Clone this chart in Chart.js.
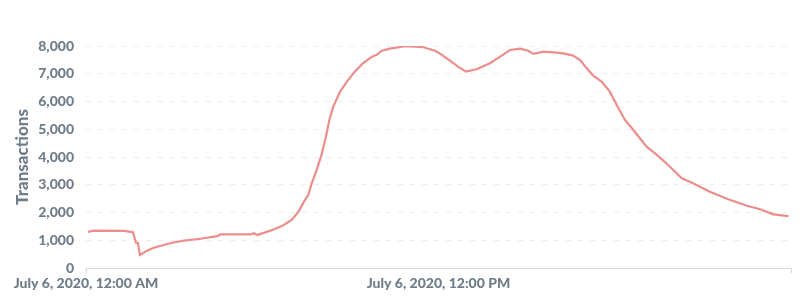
<!DOCTYPE html>
<html>
<head>
<meta charset="utf-8">
<script src="https://cdn.jsdelivr.net/npm/chart.js@4"></script>
<style>
  html, body { margin: 0; padding: 0; background: #fff; }
  #wrap { width: 804px; height: 302px; position: relative; }
</style>
</head>
<body>
<div id="wrap"><canvas id="c"></canvas></div>
<script>
// minutes after midnight, July 6, 2020
const minutes = [4, 16, 78, 88, 96, 102, 106, 110, 125, 139, 159, 176, 200, 234, 268, 275, 336, 343, 350, 366,
  383, 400, 406, 420, 434, 444, 454, 461, 470, 481, 490, 497, 505, 519, 533, 549, 566, 584, 594, 604,
  621, 652, 689, 713, 727, 744, 760, 776, 798, 825, 846, 866, 887, 903, 914, 934, 961, 975, 995, 1009,
  1023, 1036, 1053, 1070, 1084, 1101, 1121, 1145, 1166, 1189, 1217, 1240, 1274, 1312, 1350, 1377, 1404, 1435];
const transactions = [1300, 1345, 1340, 1310, 1290, 910, 910, 470, 625, 735, 830, 910, 985, 1055, 1150, 1210, 1210, 1255, 1190, 1285,
  1390, 1515, 1575, 1730, 2030, 2355, 2630, 3050, 3470, 4075, 4730, 5335, 5815, 6355, 6715, 7075, 7380, 7615, 7680, 7830,
  7905, 7995, 7955, 7830, 7680, 7460, 7255, 7075, 7160, 7380, 7615, 7855, 7905, 7830, 7715, 7795, 7760, 7735, 7655, 7495,
  7195, 6930, 6715, 6355, 5875, 5335, 4910, 4370, 4075, 3710, 3230, 3050, 2750, 2475, 2245, 2115, 1935, 1870];
const xTickValues = [0, 720, 1440];
const xTickLabels = ["July 6, 2020, 12:00 AM", "July 6, 2020, 12:00 PM", ""];
const yTicks = [0, 1000, 2000, 3000, 4000, 5000, 6000, 7000, 8000];
const yTitle = "Transactions";

const textColor = '#6f7d8a';
const points = minutes.map((m, i) => ({ x: m, y: transactions[i] }));

new Chart(document.getElementById('c'), {
  type: 'line',
  data: {
    datasets: [{
      data: points,
      borderColor: '#ec8d8b',
      borderWidth: 2.2,
      pointRadius: 0,
      tension: 0,
      fill: false
    }]
  },
  options: {
    responsive: true,
    maintainAspectRatio: false,
    animation: false,
    layout: { padding: { left: 0, right: 13, top: 46, bottom: 0 } },
    plugins: { legend: { display: false }, tooltip: { enabled: false } },
    scales: {
      x: {
        type: 'linear',
        min: 0,
        max: 1440,
        afterBuildTicks: s => { s.ticks = xTickValues.map(v => ({ value: v })); },
        afterFit: s => { s.height = 34; },
        ticks: {
          autoSkip: false,
          maxRotation: 0,
          padding: 2,
          color: textColor,
          font: { family: 'Lato', size: 14, weight: '900' },
          callback: (v) => xTickLabels[xTickValues.indexOf(v)]
        },
        grid: {
          drawOnChartArea: false,
          drawTicks: true,
          tickLength: 5,
          tickColor: ctx => (ctx.tick && ctx.tick.value === 720) ? 'rgba(0,0,0,0)' : '#d6d9de'
        },
        border: { display: true, color: '#d6d9de', width: 1 }
      },
      y: {
        min: 0,
        max: 8000,
        afterBuildTicks: s => { s.ticks = yTicks.map(v => ({ value: v })); },
        afterFit: s => { s.width = 86; },
        ticks: {
          padding: 12,
          color: textColor,
          font: { family: 'Lato', size: 14, weight: '900' },
          callback: v => v.toLocaleString('en-US')
        },
        grid: {
          drawTicks: false,
          color: '#ececec',
          lineWidth: 1
        },
        border: { display: false, dash: [5, 7] },
        title: {
          display: true,
          text: yTitle,
          color: textColor,
          font: { family: 'Lato', size: 17, weight: '900' },
          padding: { top: 12, bottom: 4 }
        }
      }
    }
  }
});
</script>
</body>
</html>
